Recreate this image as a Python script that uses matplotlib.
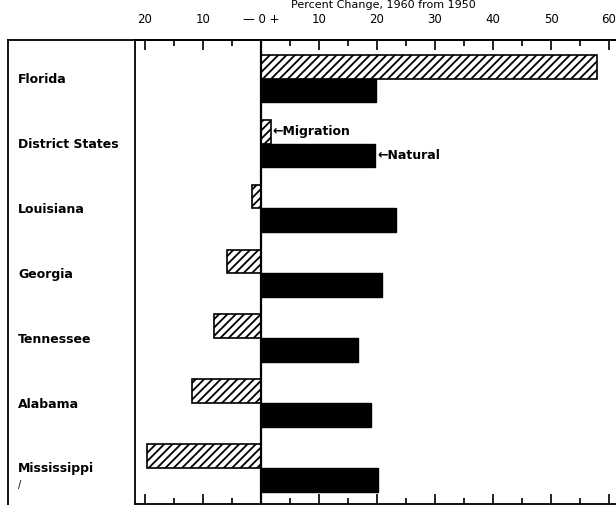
import matplotlib
matplotlib.use('Agg')
import matplotlib.pyplot as plt
from matplotlib.lines import Line2D
from matplotlib.transforms import blended_transform_factory

# Datos
states = ['Florida', 'District States', 'Louisiana', 'Georgia',
          'Tennessee', 'Alabama', 'Mississippi']
migration = [58.0, 1.7, -1.5, -5.8, -8.1, -11.8, -19.6]
natural = [19.9, 19.7, 23.3, 20.8, 16.8, 18.9, 20.2]

tick_vals = [-20, -10, 0, 10, 20, 30, 40, 50, 60]
tick_labels = ['20', '10', '\u2014 0 +', '10', '20', '30', '40', '50', '60']
minor_vals = [-15, -5, 5, 15, 25, 35, 45, 55]

plt.rcParams['font.family'] = ['DejaVu Sans']
plt.rcParams['hatch.linewidth'] = 1.3

fig = plt.figure(figsize=(6.16, 5.05), dpi=100)
ax = fig.add_axes([135 / 616, 1 / 505, 481 / 616, 464 / 505])

rows = list(range(len(states)))
h = 0.365
ax.barh([r - 0.2 for r in rows], migration, height=h, color='white',
        edgecolor='black', hatch='////', linewidth=1.2)
ax.barh([r + 0.165 for r in rows], natural, height=h, color='black',
        edgecolor='black', linewidth=1.0)

ax.axvline(0, color='black', linewidth=1.6)

ax.set_xlim(-21.7, 61.2)
ax.set_ylim(6.54, -0.615)

ax.xaxis.tick_top()
ax.set_xticks(tick_vals)
ax.set_xticklabels(tick_labels, fontsize=8.5)
ax.set_xticks(minor_vals, minor=True)
ax.tick_params(axis='x', which='major', direction='in', length=7, width=1.2,
               pad=10, top=True, bottom=True)
ax.tick_params(axis='x', which='minor', direction='in', length=4, width=1.2,
               top=True, bottom=True)
ax.set_yticks([])

ax.spines['right'].set_visible(False)
for side in ['top', 'left', 'bottom']:
    ax.spines[side].set_linewidth(1.3)

# Nombres de estados en la columna izquierda
trans = blended_transform_factory(fig.transFigure, ax.transData)
for r, name in zip(rows, states):
    ax.text(18 / 616, r, name, transform=trans, ha='left', va='center',
            fontsize=9, fontweight='bold')
ax.text(18 / 616, 6.25, '/', transform=trans, ha='left', va='center',
        fontsize=7)

# Caja de la columna izquierda
fig.add_artist(Line2D([8 / 616, 1], [1 - 40 / 505, 1 - 40 / 505],
                      color='black', linewidth=1.3))
fig.add_artist(Line2D([8 / 616, 8 / 616], [0, 1 - 40 / 505],
                      color='black', linewidth=1.3))

# Etiquetas de leyenda
ax.text(migration[1] + 0.3, 1 - 0.2, '\u2190Migration', ha='left',
        va='center', fontsize=9, fontweight='bold')
ax.text(natural[1] + 0.3, 1 + 0.165, '\u2190Natural', ha='left',
        va='center', fontsize=9, fontweight='bold')

fig.text(383 / 616, 1 - 5 / 505, 'Percent Change, 1960 from 1950',
         ha='center', va='center', fontsize=8)

fig.savefig('out.png', dpi=100)
